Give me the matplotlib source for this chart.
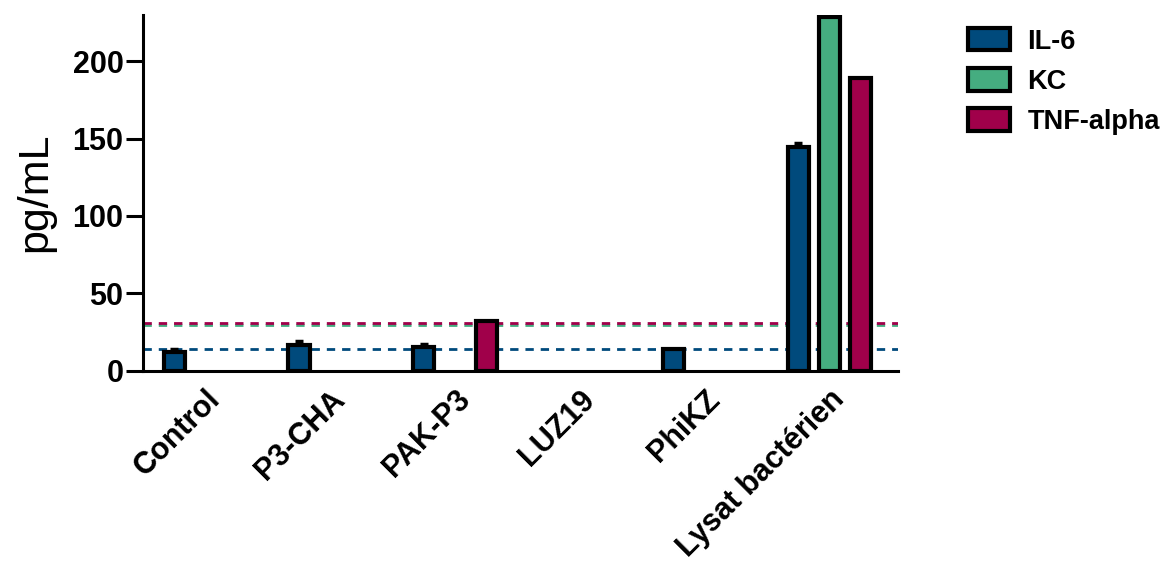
import numpy as np
import matplotlib
matplotlib.use('Agg')
import matplotlib.pyplot as plt
from matplotlib.patches import Patch

plt.rcParams['font.family'] = ['Liberation Sans', 'DejaVu Sans']
plt.rcParams['font.weight'] = 'bold'

categories = ['Control', 'P3-CHA', 'PAK-P3', 'LUZ19', 'PhiKZ', 'Lysat bactérien']
series = ['IL-6', 'KC', 'TNF-alpha']
il6 = [12, 16.5, 15, np.nan, 14, 144.5]
il6_err = [2, 2.5, 2, 0, 0, 3]
kc = [np.nan, np.nan, np.nan, np.nan, np.nan, 228.5]
tnf = [np.nan, np.nan, 32, np.nan, np.nan, 189]
# seuils (lignes pointillées)
seuil_il6 = 14
seuil_kc = 29.5
seuil_tnf = 31

col_il6 = '#004a7c'
col_kc = '#45ad80'
col_tnf = '#a0004a'

fig = plt.figure(figsize=(11.65, 5.65), dpi=100)
ax = fig.add_axes([143/1165, 1-370.5/565, (898-143)/1165, (370.5-15)/565])

x = np.arange(len(categories))
w = 0.17
off = 0.25
lw = 3

ax.bar(x-off, il6, w, color=col_il6, edgecolor='black', linewidth=lw, zorder=3)
ax.bar(x, kc, w, color=col_kc, edgecolor='black', linewidth=lw, zorder=3)
ax.bar(x+off, tnf, w, color=col_tnf, edgecolor='black', linewidth=lw, zorder=3)
err = [np.zeros(len(il6_err)), il6_err]
ax.errorbar(x-off, il6, yerr=err, fmt='none', ecolor='black', elinewidth=2.5,
            capsize=3, capthick=2.5, zorder=2)

ax.axhline(seuil_il6, color=col_il6, linestyle=(0, (3, 2.5)), linewidth=2, zorder=1)
ax.axhline(seuil_kc, color=col_kc, linestyle=(0, (3, 2.5)), linewidth=2, zorder=1)
ax.axhline(seuil_tnf, color=col_tnf, linestyle=(0, (3, 2.5)), linewidth=2, zorder=1)

ax.set_xlim(-0.5, 5.55)
ax.set_ylim(0, 230)
ax.set_yticks([0, 50, 100, 150, 200])
ax.set_ylabel('pg/mL', fontsize=31, fontweight='normal')
ax.yaxis.set_label_coords((55-143)/755, 0.5)
ax.tick_params(axis='y', labelsize=22, width=2.2, length=12, pad=2)
ax.tick_params(axis='x', length=0, pad=10)
ax.set_xticks(x)
ax.set_xticklabels(categories, rotation=45, ha='right', rotation_mode='anchor', fontsize=22)
for s in ['top', 'right']:
    ax.spines[s].set_visible(False)
for s in ['left', 'bottom']:
    ax.spines[s].set_linewidth(2.2)

handles = [Patch(facecolor=c, edgecolor='black', linewidth=lw) for c in [col_il6, col_kc, col_tnf]]
fig.legend(handles, series, loc='upper left', bbox_to_anchor=(968/1165, 1-28/565),
           frameon=False, fontsize=19.5, handlelength=1.55, handleheight=0.9,
           handletextpad=0.65, labelspacing=0.5, borderpad=0, borderaxespad=0)

fig.savefig('out.png', dpi=100)
